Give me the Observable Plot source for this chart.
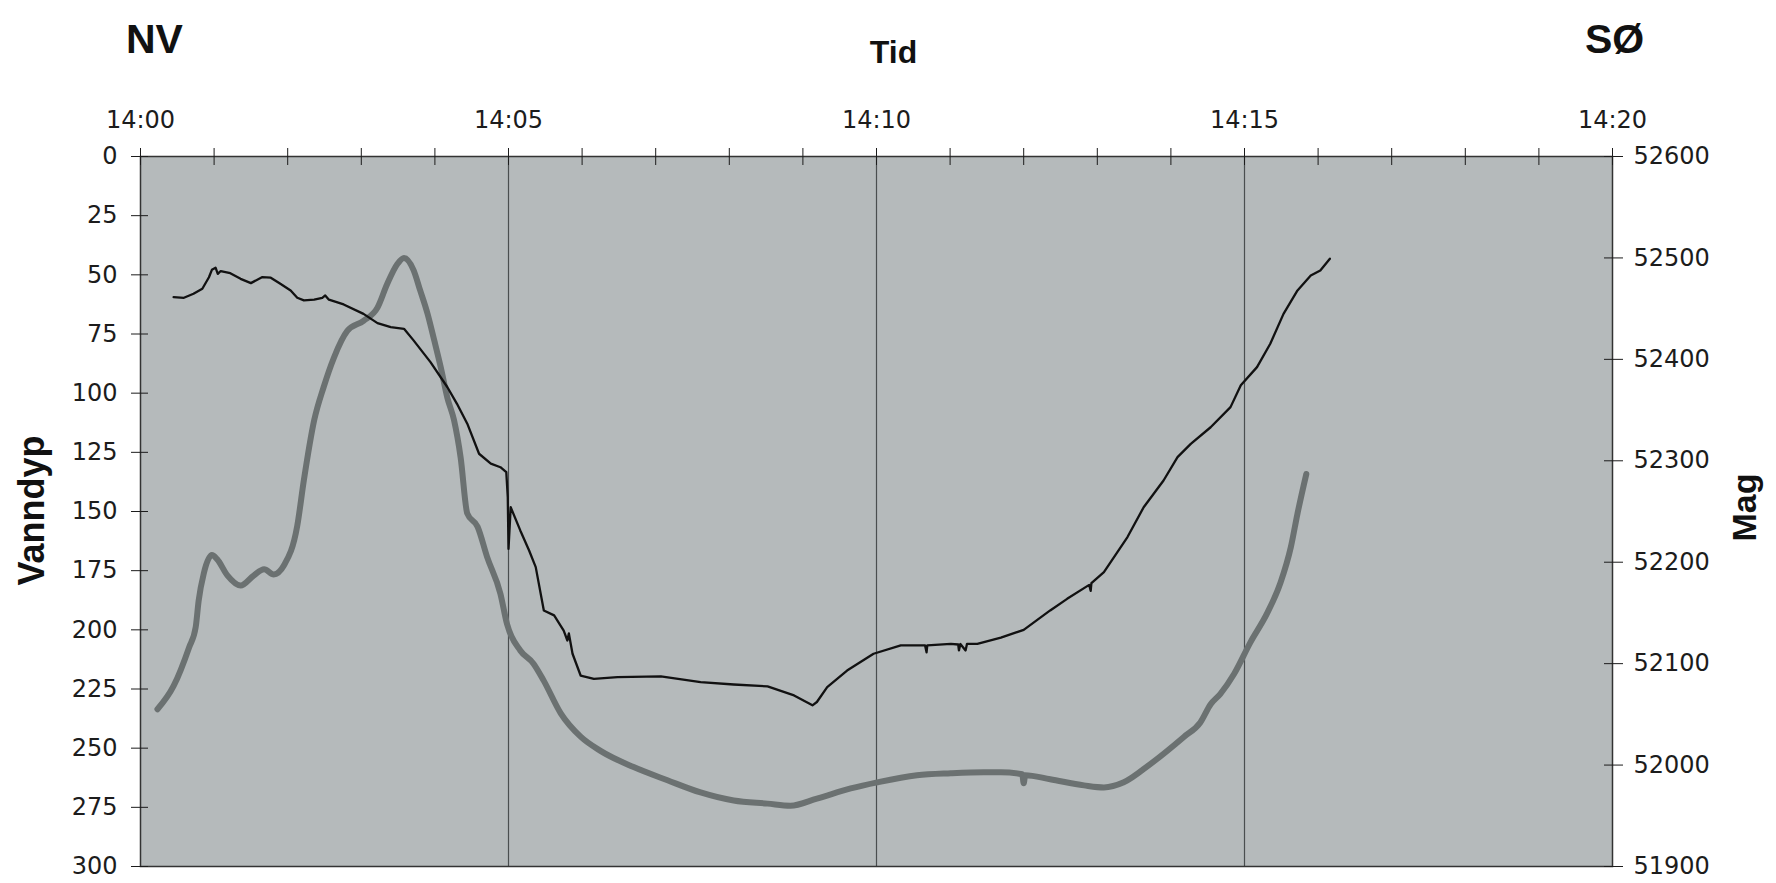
<!DOCTYPE html>
<html><head><meta charset="utf-8">
<script src="https://cdn.jsdelivr.net/npm/d3@7"></script>
<script src="https://cdn.jsdelivr.net/npm/@observablehq/plot@0.6"></script>
<style>body{margin:0;background:#fff}</style>
</head><body><div id="chart"></div>
<script>
// Tick labels
const timeTicks = ["14:00", "14:05", "14:10", "14:15", "14:20"];
const vanndypTicks = [0, 25, 50, 75, 100, 125, 150, 175, 200, 225, 250, 275, 300];
const magTicks = [51900, 52000, 52100, 52200, 52300, 52400, 52500, 52600];

// Vanndyp (thin black line): minutes after 14:00, depth
const depthMinutes = [0.45,0.59,0.72,0.84,0.93,0.97,1.02,1.05,1.09,1.22,1.36,1.50,1.65,1.77,1.90,2.04,2.13,2.22,2.36,2.47,2.51,2.56,2.76,3.03,3.22,3.40,3.58,3.71,3.94,4.17,4.30,4.44,4.60,4.76,4.89,4.97,4.99,5.00,5.03,5.16,5.28,5.37,5.48,5.62,5.75,5.80,5.82,5.87,5.98,6.16,6.48,7.07,7.61,8.06,8.52,8.88,9.13,9.19,9.33,9.60,9.96,10.33,10.66,10.68,10.69,11.01,11.11,11.12,11.14,11.21,11.23,11.37,11.69,12.00,12.36,12.59,12.89,12.91,12.92,13.09,13.41,13.63,13.90,14.09,14.27,14.54,14.81,14.95,15.17,15.35,15.53,15.72,15.90,16.03,16.16];
const depthValues = [59.4,59.7,58.0,55.9,51.0,47.9,47.0,49.6,48.4,49.3,51.7,53.5,51.0,51.2,53.8,56.6,59.7,60.8,60.5,59.7,58.7,60.5,62.5,66.5,70.4,72.1,72.8,77.7,86.9,97.5,104.5,112.9,125.6,129.8,131.3,133.4,143.9,165.8,148.2,158.0,166.5,173.5,191.8,193.9,200.3,204.5,201.5,210.1,219.3,220.7,220.0,219.7,222.1,223.1,223.9,227.7,231.9,230.5,224.2,217.2,210.1,206.6,206.6,209.5,206.6,205.9,206.2,208.7,206.0,208.7,205.9,205.9,203.3,200.0,191.8,186.9,181.0,183.5,180.3,175.6,160.8,148.2,136.9,127.0,121.4,114.4,105.9,96.7,89.0,79.1,66.5,56.6,50.3,48.2,43.2];

// Mag (thick grey line): minutes after 14:00, nT
const magMinutes = [0.23,0.45,0.66,0.75,0.79,0.86,0.97,1.04,1.18,1.36,1.54,1.68,1.81,1.95,2.13,2.22,2.36,2.49,2.63,2.81,3.03,3.22,3.35,3.49,3.58,3.71,3.80,3.90,3.99,4.08,4.17,4.26,4.35,4.44,4.58,4.71,4.89,4.98,5.16,5.34,5.48,5.71,5.98,6.25,6.70,7.16,7.61,8.06,8.52,8.83,9.19,9.65,10.01,10.55,11.01,11.46,11.69,11.98,12.00,12.02,12.36,12.82,13.09,13.36,13.72,14.18,14.40,14.54,14.67,14.86,15.08,15.31,15.49,15.63,15.72,15.84];
const magValues = [52055,52078,52116,52136,52162,52189,52207,52203,52187,52177,52187,52193,52188,52197,52236,52281,52340,52373,52402,52428,52438,52451,52474,52494,52500,52488,52468,52445,52419,52392,52362,52340,52303,52248,52235,52205,52169,52139,52113,52100,52083,52051,52028,52014,51998,51985,51973,51965,51962,51960,51967,51977,51983,51990,51992,51993,51993,51991,51982,51990,51986,51980,51978,51983,52001,52028,52042,52060,52070,52090,52121,52150,52180,52215,52248,52287];

const parseHM = s => { const [h, m] = s.split(":").map(Number); return new Date(Date.UTC(2000, 0, 1, h, m)); };
const t0 = parseHM(timeTicks[0]);
const t1 = parseHM(timeTicks[timeTicks.length - 1]);
const toDate = m => new Date(+t0 + m * 60000);

const yMax = vanndypTicks[vanndypTicks.length - 1];
const magLo = magTicks[0], magHi = magTicks[magTicks.length - 1];
const magToY = m => (magHi - m) * yMax / (magHi - magLo);
const yToMag = y => magHi - y * (magHi - magLo) / yMax;

const depth = depthMinutes.map((m, i) => ({t: toDate(m), v: depthValues[i]}));
const mag = magMinutes.map((m, i) => ({t: toDate(m), v: magToY(magValues[i])}));
const minuteTicks = d3.utcMinute.range(t0, new Date(+t1 + 1));
const labelTicks = timeTicks.map(parseHM);
const fmt = d3.utcFormat("%H:%M");
const none = () => "";
const bold = {fontWeight: "bold", fontFamily: "'Liberation Sans', Arial, sans-serif", fill: "#111"};

const plot = Plot.plot({
  width: 1776, height: 883,
  marginLeft: 140, marginRight: 164, marginTop: 156, marginBottom: 17,
  style: {fontFamily: "'DejaVu Sans', sans-serif", fontSize: "24px", color: "#1c1c1c", background: "#fff", overflow: "visible"},
  x: {type: "utc", domain: [t0, t1]},
  y: {domain: [0, yMax], reverse: true},
  marks: [
    Plot.frame({fill: "#b5babb", stroke: null}),
    Plot.ruleX(labelTicks.slice(1, -1), {stroke: "#4a4e4f", strokeWidth: 1.2}),
    Plot.line(mag, {x: "t", y: "v", stroke: "#6b7171", strokeWidth: 6, strokeLinejoin: "round", strokeLinecap: "round", curve: "monotone-x"}),
    Plot.line(depth, {x: "t", y: "v", stroke: "#111", strokeWidth: 2.3, strokeLinejoin: "round"}),
    Plot.frame({stroke: "#333", strokeWidth: 1.5}),
    Plot.axisX(labelTicks, {anchor: "top", tickSize: 9, tickPadding: 20, tickFormat: fmt, label: null}),
    Plot.axisX(minuteTicks, {anchor: "top", tickSize: 9, tickFormat: none, label: null}),
    Plot.axisX(minuteTicks, {anchor: "top", tickSize: -8, tickFormat: none, label: null}),
    Plot.axisY(vanndypTicks, {anchor: "left", tickSize: 9, tickPadding: 14, label: null}),
    Plot.axisY(vanndypTicks, {anchor: "left", tickSize: -8, tickFormat: none, label: null}),
    Plot.axisY(magTicks.map(magToY), {anchor: "right", tickSize: 10, tickPadding: 11, tickFormat: y => String(Math.round(yToMag(y))), label: null}),
    Plot.axisY(magTicks.map(magToY), {anchor: "right", tickSize: -9, tickFormat: none, label: null}),
    Plot.text(["NV"], {text: d => d, frameAnchor: "top-left", textAnchor: "middle", dx: 14, dy: -133, fontSize: 41, ...bold}),
    Plot.text(["SØ"], {text: d => d, frameAnchor: "top-right", textAnchor: "middle", dx: 2, dy: -133, fontSize: 41, ...bold}),
    Plot.text(["Tid"], {text: d => d, frameAnchor: "top", textAnchor: "middle", dx: 17, dy: -116, fontSize: 32, ...bold}),
    Plot.text(["Vanndyp"], {text: d => d, frameAnchor: "left", rotate: -90, textAnchor: "middle", dx: -108, dy: -1, fontSize: 36, ...bold}),
    Plot.text(["Mag"], {text: d => d, frameAnchor: "right", rotate: -90, textAnchor: "middle", dx: 133, dy: -4, fontSize: 34, ...bold})
  ]
});
document.getElementById("chart").append(plot);
</script>
</body></html>
